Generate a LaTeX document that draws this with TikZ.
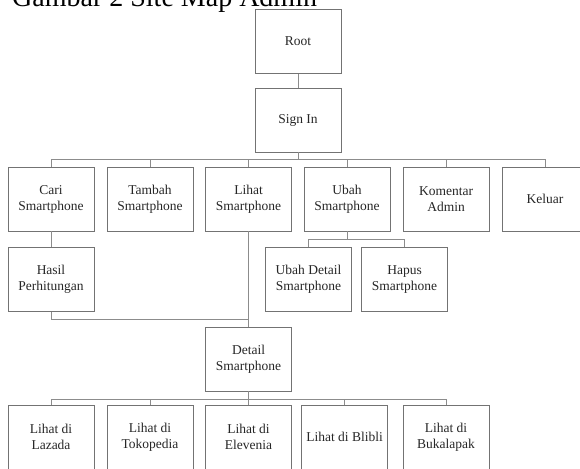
\documentclass[tikz,border=0pt]{standalone}
\usepackage{fontspec}
\setmainfont{Liberation Serif}

\begin{document}
\begin{tikzpicture}[x=1pt,y=-1pt,
    menu/.style={shape=rectangle,draw=black!55,line width=0.9pt,minimum width=86pt,minimum height=64pt,
        inner sep=2pt,align=center,text=black!85,font=\fontsize{13.5}{16}\selectfont},
    link/.style={draw=black!45,line width=0.9pt}]
    \useasboundingbox (0,0) rectangle (580,468);
    \node[anchor=base west,inner sep=0pt,font=\fontsize{28}{30}\selectfont] (title) at (12,7) {Gambar 2 Site Map Admin};

    \node[menu] (root) at (298,41.5) {Root};
    \node[menu] (signin) at (298,120) {Sign In};

    \node[menu] (cari) at (51,199) {Cari\\Smartphone};
    \node[menu] (tambah) at (150,199) {Tambah\\Smartphone};
    \node[menu] (lihat) at (248.5,199) {Lihat\\Smartphone};
    \node[menu] (ubah) at (347,199) {Ubah\\Smartphone};
    \node[menu] (komentar) at (446,199) {Komentar\\Admin};
    \node[menu] (keluar) at (545,199) {Keluar};

    \node[menu] (hasil) at (51,279.5) {Hasil\\Perhitungan};
    \node[menu] (ubahdetail) at (308.5,279.5) {Ubah Detail\\Smartphone};
    \node[menu] (hapus) at (404.5,279.5) {Hapus\\Smartphone};

    \node[menu] (detail) at (248.5,359) {Detail\\Smartphone};

    \node[menu] (lazada) at (51,437) {Lihat di\\Lazada};
    \node[menu] (tokopedia) at (150,437) {Lihat di\\Tokopedia};
    \node[menu] (elevenia) at (248.5,437) {Lihat di\\Elevenia};
    \node[menu] (blibli) at (344.5,437) {Lihat di Blibli};
    \node[menu] (bukalapak) at (446,437) {Lihat di\\Bukalapak};

    % root to menu
    \path[link] (root) edge (signin);
    \draw[link] (signin.south) -- ++(0,7) coordinate (menubus);
    \draw[link] (cari.north) |- (menubus) -| (keluar.north);
    \foreach \n in {tambah,lihat,ubah,komentar}
        \draw[link] (\n.north) -- (\n.north |- menubus);

    % sub menus
    \path[link] (cari) edge (hasil);
    \draw[link] (ubah.south) -- ++(0,8) coordinate (ubahbus);
    \draw[link] (ubahdetail.north) |- (ubahbus) -| (hapus.north);
    \path[link] (lihat) edge (detail);
    \draw[link] (hasil.south) -- ++(0,7) -| (detail.north);

    % detail to shops
    \draw[link] (detail.south) -- ++(0,8) coordinate (shopbus);
    \draw[link] (lazada.north) |- (shopbus) -| (bukalapak.north);
    \foreach \n in {tokopedia,elevenia,blibli}
        \draw[link] (\n.north) -- (\n.north |- shopbus);
\end{tikzpicture}
\end{document}
